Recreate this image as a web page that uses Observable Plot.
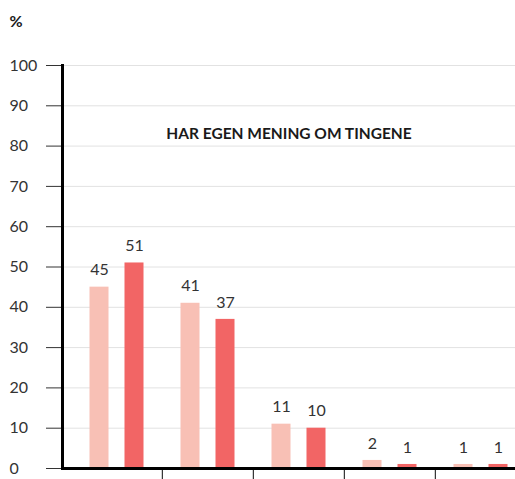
<!DOCTYPE html>
<html>
<head>
<meta charset="utf-8">
<script src="https://cdn.jsdelivr.net/npm/d3@7"></script>
<script src="https://cdn.jsdelivr.net/npm/@observablehq/plot@0.6"></script>
<style>
  html, body { margin: 0; padding: 0; background: #fff; }
  #chart svg { display: block; }
</style>
</head>
<body>
<div id="chart"></div>
<script>
// Data
const categories = ["Helt enig", "Delvis enig", "Delvis uenig", "Helt uenig", "Vet ikke"];
const seriesNames = ["Serie 1", "Serie 2"];
const valuesSerie1 = [45, 41, 11, 2, 1];
const valuesSerie2 = [51, 37, 10, 1, 1];
const yTicks = [0, 10, 20, 30, 40, 50, 60, 70, 80, 90, 100];
const chartTitle = "HAR EGEN MENING OM TINGENE";
const unitLabel = "%";

const colors = ["#f8c0b5", "#f26565"];
const rows1 = categories.map((c, i) => ({category: c, series: seriesNames[0], value: valuesSerie1[i]}));
const rows2 = categories.map((c, i) => ({category: c, series: seriesNames[1], value: valuesSerie2[i]}));

const step = 91.25;
const off = 17.5;
const font = "Lato, 'Open Sans', sans-serif";

const chart = Plot.plot({
  width: 515,
  height: 479,
  marginTop: 65,
  marginBottom: 11,
  marginLeft: 62,
  marginRight: 0,
  style: {fontFamily: font, fontSize: "16px", color: "#333", background: "#fff"},
  x: {type: "band", domain: categories, range: [70.4, 70.4 + step * 5], padding: 0, axis: null},
  y: {domain: [0, 100], axis: null},
  marks: [
    Plot.gridY(yTicks, {stroke: "#e2e2e2", strokeOpacity: 1, strokeWidth: 1}),
    Plot.axisY(yTicks, {tickSize: 16, text: null, label: null, stroke: "#333"}),
    Plot.axisY(yTicks, {tickSize: 0, tickPadding: 0, textAnchor: "start", dx: -53, label: null, fontSize: 16, fill: "#333", tickFormat: d => String(d)}),
    Plot.barY(rows1, {x: "category", y: "value", fill: colors[0], dx: -off, insetLeft: 36, insetRight: 36}),
    Plot.barY(rows2, {x: "category", y: "value", fill: colors[1], dx: off, insetLeft: 36, insetRight: 36}),
    Plot.text(rows1, {x: "category", y: "value", text: d => String(d.value), dx: -off, dy: -17, fontSize: 16, fill: "#333"}),
    Plot.text(rows2, {x: "category", y: "value", text: d => String(d.value), dx: off, dy: -17, fontSize: 16, fill: "#333"}),
    Plot.ruleX(categories.slice(1), {x: d => d, dx: -step / 2, y1: 0, y2: -2.75, stroke: "#333", strokeWidth: 1.2}),
    Plot.ruleY([0], {stroke: "#000", strokeWidth: 3}),
    Plot.frame({anchor: "left", stroke: "#000", strokeWidth: 3}),
    Plot.text([chartTitle], {frameAnchor: "top", dy: 62, text: d => d, fontSize: 15.5, fontWeight: "bold", fill: "#1a1a1a"}),
    Plot.text([unitLabel], {frameAnchor: "top-left", dx: -53, dy: -50, text: d => d, textAnchor: "start", fontSize: 16, fontWeight: "bold", fill: "#1a1a1a"})
  ]
});
document.getElementById("chart").appendChild(chart);
</script>
</body>
</html>
